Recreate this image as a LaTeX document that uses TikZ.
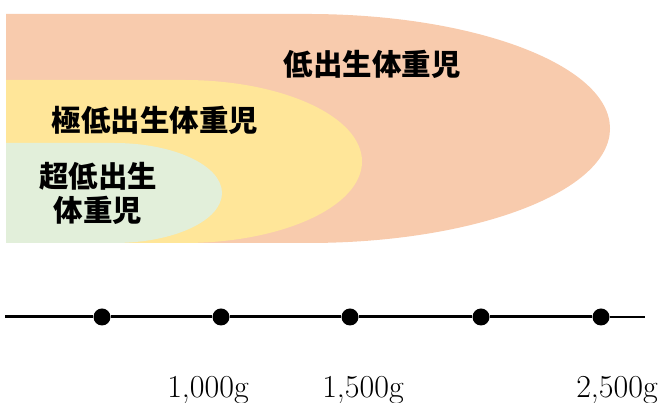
\documentclass[tikz,border=0pt]{standalone}
\usepackage{fontspec}
\usepackage{xcolor}
\usetikzlibrary{positioning}
\newfontfamily\jpfont{Noto Sans CJK JP}
\definecolor{lbwcol}{HTML}{F8CBAD}
\definecolor{vlbwcol}{HTML}{FFE699}
\definecolor{elbwcol}{HTML}{E2EFDA}

\begin{document}
\begin{tikzpicture}[x=1pt, y=1pt,
    jptext/.style = {inner sep=0pt, font=\jpfont\bfseries\fontsize{29.5}{34}\selectfont},
    wdot/.style = {circle, fill=black, inner sep=0pt, minimum size=17pt},
    wlabel/.style = {inner sep=0pt, anchor=base, font=\fontsize{32}{36}\selectfont}]
            \useasboundingbox (0, 0) rectangle (661, 403);

            \fill[lbwcol] (6, 160) -- (6, 389) -- (308, 389)
                arc[start angle=90, end angle=-90, x radius=302, y radius=114.5] -- cycle;
            \fill[vlbwcol] (6, 160) -- (6, 323) -- (184, 323)
                arc[start angle=90, end angle=-90, x radius=178, y radius=81.5] -- cycle;
            \fill[elbwcol] (6, 160) -- (6, 260) -- (114, 260)
                arc[start angle=90, end angle=-90, x radius=108, y radius=50] -- cycle;

            \node[jptext] (lbw) at (372, 339) {低出生体重児};
            \node[jptext] (vlbw) at (155, 283) {極低出生体重児};
            \node[jptext, align=center] (elbw) at (98, 210) {超低出生\\体重児};

            \coordinate (ax0) at (5, 86);
            \coordinate (ax1) at (645, 86);
            \node[wdot] (w1) at (102, 86) {};
            \node[wdot] (w2) at (221, 86) {};
            \node[wdot] (w3) at (350, 86) {};
            \node[wdot] (w4) at (481, 86) {};
            \node[wdot] (w5) at (601, 86) {};
            \draw[line width=3pt] (ax0) -- (w1) -- (w2) -- (w3) -- (w4) -- (w5);
            \draw[line width=1.4pt] (w5) -- (ax1);

            \node[wlabel] (g1000) at (208, 5) {1,000g};
            \node[wlabel] (g1500) at (363, 5) {1,500g};
            \node[wlabel] (g2500) at (617, 5) {2,500g};
\end{tikzpicture}
\end{document}
